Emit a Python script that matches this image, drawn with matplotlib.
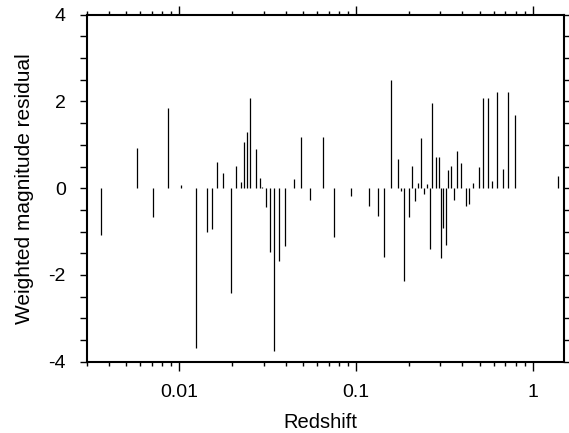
import matplotlib
matplotlib.use("Agg")
import matplotlib.pyplot as plt
from matplotlib.ticker import LogLocator, FixedLocator, MultipleLocator, FuncFormatter, NullFormatter

plt.rcParams['font.family'] = ['Liberation Sans', 'DejaVu Sans']
plt.rcParams['axes.unicode_minus'] = False

redshift = [0.00362, 0.00581, 0.00710, 0.00867, 0.0102, 0.01248, 0.01428, 0.01537,
            0.01647, 0.01766, 0.01960, 0.02092, 0.02223, 0.02340, 0.02433, 0.02531,
            0.02703, 0.02847, 0.02958, 0.03116, 0.03258, 0.03433, 0.03679, 0.03962,
            0.04431, 0.04877, 0.05458, 0.06524, 0.07464, 0.0940, 0.1178, 0.1323,
            0.1444, 0.1574, 0.1718, 0.1794, 0.1874, 0.1981, 0.2070, 0.2152,
            0.2238, 0.2338, 0.2432, 0.2506, 0.2606, 0.2698, 0.2818, 0.2930,
            0.3021, 0.3112, 0.3223, 0.3319, 0.3440, 0.3575, 0.3718, 0.3914,
            0.4182, 0.4348, 0.4560, 0.4931, 0.5222, 0.5545, 0.5837, 0.6263,
            0.6741, 0.7257, 0.7951, 1.380]
residual = [-1.08, 0.93, -0.66, 1.85, 0.07, -3.68, -1.02, -0.93,
            0.60, 0.36, -2.42, 0.52, 0.15, 1.06, 1.29, 2.08,
            0.90, 0.23, 0.03, -0.43, -1.47, -3.76, -1.69, -1.34,
            0.21, 1.18, -0.27, 1.19, -1.13, -0.17, -0.42, -0.65,
            -1.59, 2.50, 0.68, -0.06, -2.15, -0.67, 0.51, -0.29,
            0.13, 1.16, -0.14, 0.10, -1.40, 1.96, 0.71, 0.73,
            -1.61, -0.92, -1.31, 0.42, 0.52, -0.27, 0.86, 0.58,
            -0.41, -0.37, 0.11, 0.50, 2.09, 2.07, 0.16, 2.22,
            0.45, 2.21, 1.69, 0.28]

x_ticks = [0.01, 0.1, 1]
x_ticklabels = ['0.01', '0.1', '1']
y_ticks = [-4, -2, 0, 2, 4]
y_ticklabels = ['-4', '-2', '0', '2', '4']

fig = plt.figure(figsize=(5.69, 4.33), dpi=100)
ax = fig.add_axes([0.1524, 0.1647, 0.8388, 0.8013])

ax.vlines(redshift, 0, residual, colors='black', linewidth=0.9)

ax.set_xscale('log')
ax.set_xlim(0.003, 1.5)
ax.set_ylim(-4, 4)

ax.xaxis.set_major_locator(FixedLocator(x_ticks))
ax.xaxis.set_major_formatter(FuncFormatter(lambda v, p: x_ticklabels[x_ticks.index(v)] if v in x_ticks else ''))
ax.xaxis.set_minor_locator(LogLocator(base=10, subs=range(2, 10), numticks=20))
ax.xaxis.set_minor_formatter(NullFormatter())

ax.yaxis.set_major_locator(FixedLocator(y_ticks))
ax.yaxis.set_major_formatter(FuncFormatter(lambda v, p: y_ticklabels[y_ticks.index(int(round(v)))] if int(round(v)) in y_ticks else ''))
ax.yaxis.set_minor_locator(MultipleLocator(0.5))

for s in ax.spines.values():
    s.set_linewidth(1.5)

ax.tick_params(axis='x', which='major', direction='out', length=6.5, width=1.0,
               top=True, bottom=True, labelsize=14, pad=9.5)
ax.tick_params(axis='x', which='minor', direction='out', length=3, width=1.0,
               top=True, bottom=True)
ax.tick_params(axis='y', which='major', direction='out', length=5, width=1.0,
               left=True, right=True, labelsize=14, pad=10)
ax.tick_params(axis='y', which='minor', direction='out', length=5, width=1.0,
               left=True, right=True)

ax.set_xlabel('Redshift', fontsize=14.5)
ax.xaxis.label.set_va('baseline')
ax.xaxis.set_label_coords(0.49, -0.192)
ax.set_ylabel('Weighted magnitude residual', fontsize=15, labelpad=10)

fig.savefig('out.png', dpi=100)
